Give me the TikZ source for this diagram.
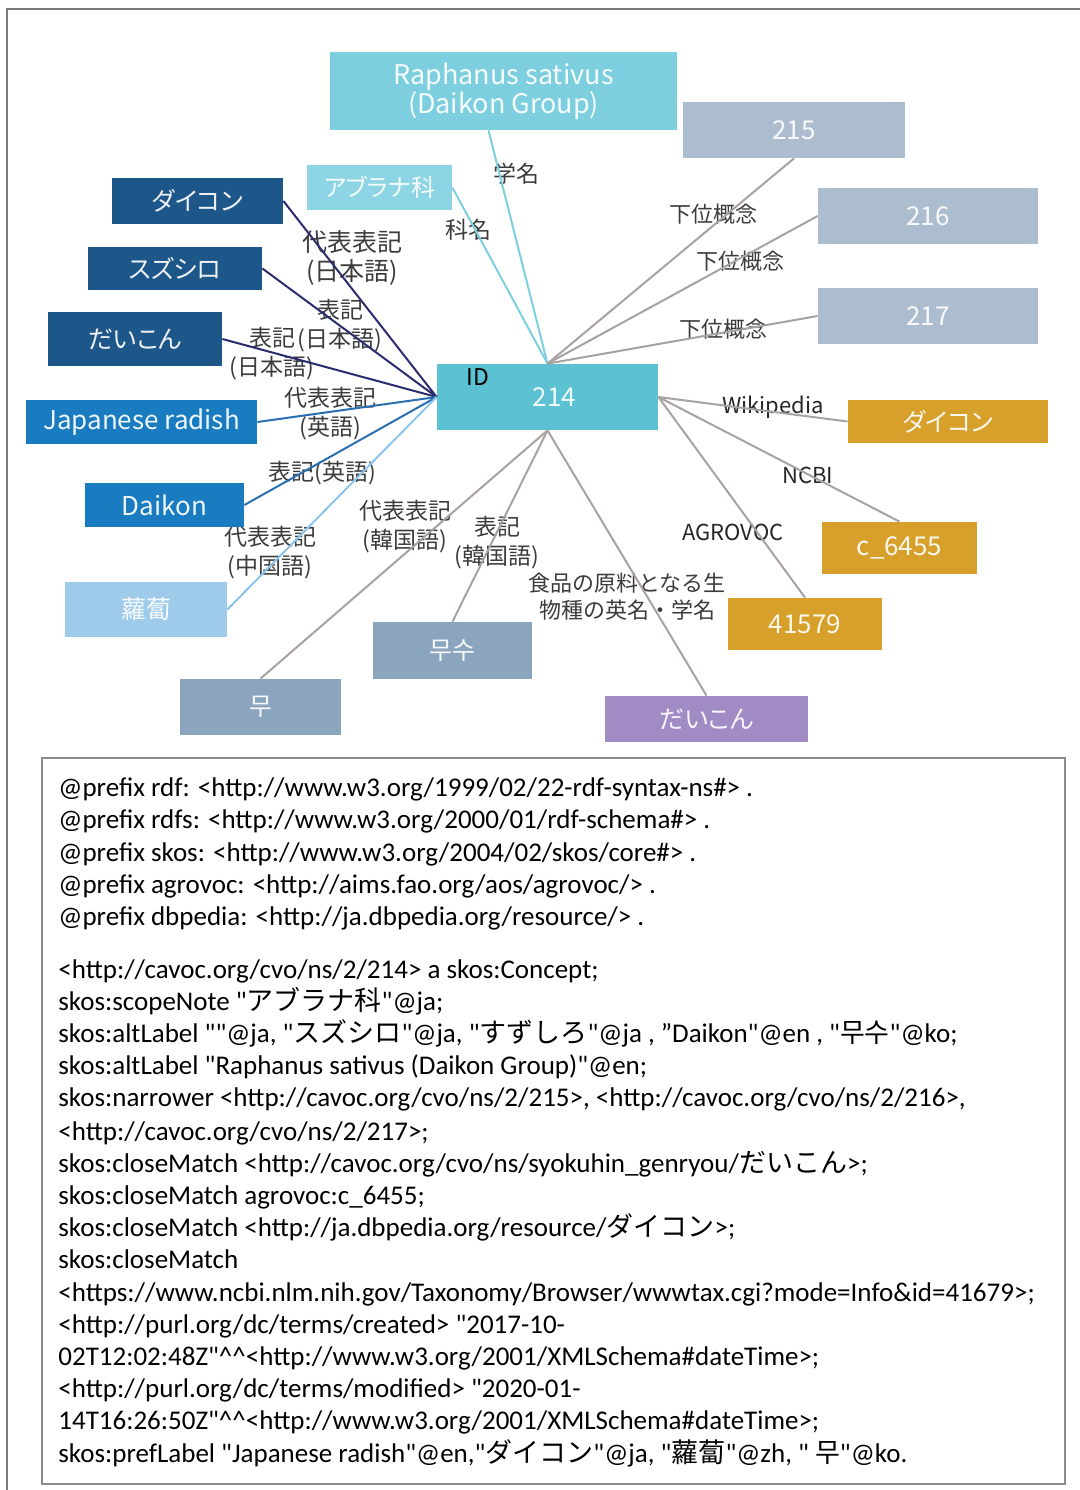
\documentclass[tikz,border=0pt]{standalone}
\usepackage{fontspec}
\setmainfont{Noto Sans CJK JP}
\newfontfamily\codefont{Carlito}
\newfontfamily\jp{Noto Sans CJK JP}
\newfontfamily\jpprop[RawFeature=+palt]{Noto Sans CJK JP}

% fills
\definecolor{raphfill}{HTML}{7DCFDF}
\definecolor{aburafill}{HTML}{8DD5E5}
\definecolor{idfill}{HTML}{5CC1D2}
\definecolor{narrowfill}{HTML}{ADBDD0}
\definecolor{navyfill}{HTML}{1D5688}
\definecolor{bluefill}{HTML}{1A7CC0}
\definecolor{lightbluefill}{HTML}{9ECBEA}
\definecolor{korfill}{HTML}{8BA5BE}
\definecolor{purplefill}{HTML}{A08BC4}
\definecolor{goldfill}{HTML}{D6A02A}
% connectors
\definecolor{navyline}{HTML}{2B2D6E}
\definecolor{blueline}{HTML}{2A70B0}
\definecolor{lightblueline}{HTML}{8CC4EC}
\definecolor{cyanline}{HTML}{7DD0E0}
\definecolor{grayline}{HTML}{A8A3A0}
% text and frames
\definecolor{labgray}{HTML}{3C3C3C}
\definecolor{framegray}{HTML}{7A7A7A}
\definecolor{boxgray}{HTML}{8C8C8C}

\begin{document}
\begin{tikzpicture}[x=0.5pt,y=-0.5pt,
  box/.style={rectangle, inner sep=0pt, text=white, text opacity=0.92,
    font=\jpprop\fontsize{12.5}{14.5}\selectfont, align=center},
  elab/.style={inner sep=0pt, text=labgray, font=\fontsize{11.5}{14.5}\selectfont, align=center},
  latlab/.style={inner sep=0pt, text=black!85, font=\fontsize{11}{13}\selectfont},
  codeline/.style={anchor=mid west, inner sep=0pt, font=\codefont\fontsize{13.5}{15}\selectfont},
  link/.style={line width=1pt}
]
\useasboundingbox (0,0) rectangle (1080,1490);
\fill[white] (0,0) rectangle (1080,1490);

% outer frame (top and left edges)
\draw[framegray, line width=1pt] (7,1490) -- (7,9) -- (1080,9);

% connector labels
\node[elab] (lgaku) at (516,174) {学名};
\node[elab] (lka) at (468,230) {科名};
\node[elab, font=\fontsize{12.5}{14.5}\selectfont] (ljp1) at (352,258) {代表表記\\(日本語)};
\node[elab] (ljp2) at (340,326) {表記\\(日本語)};
\node[elab] (ljp3) at (272,354) {表記\\(日本語)};
\node[elab] (len1) at (330,414) {代表表記\\(英語)};
\node[elab] (len2) at (322,473) {表記(英語)};
\node[elab] (lzh) at (270,553) {代表表記\\(中国語)};
\node[elab] (lko1) at (405,527) {代表表記\\(韓国語)};
\node[elab] (lko2) at (497,543) {表記\\(韓国語)};
\node[elab, font=\fontsize{11}{13.5}\selectfont] (lfood) at (627,597) {食品の原料となる生\\物種の英名・学名};
\node[elab, font=\fontsize{11}{13}\selectfont] (lnar1) at (713,214) {下位概念};
\node[elab, font=\fontsize{11}{13}\selectfont] (lnar2) at (740,261) {下位概念};
\node[elab, font=\fontsize{11}{13}\selectfont] (lnar3) at (723,329) {下位概念};
\node[latlab] (lwiki) at (773,407) {Wikipedia};
\node[latlab] (lncbi) at (808,475) {NCBI};
\node[latlab] (lagro) at (733,532) {AGROVOC};

% concept boxes
\node[box, fill=raphfill, minimum width=173.5pt, minimum height=39pt, font=\fontsize{13.5}{14.5}\selectfont] (raph) at (503.5,91) {Raphanus sativus\\(Daikon Group)};
\node[box, fill=narrowfill, minimum width=111pt, minimum height=28pt, font=\fontsize{13}{15}\selectfont] (n215) at (794,130) {215};
\node[box, fill=narrowfill, minimum width=110pt, minimum height=28pt, font=\fontsize{13}{15}\selectfont] (n216) at (928,216) {216};
\node[box, fill=narrowfill, minimum width=110pt, minimum height=28pt, font=\fontsize{13}{15}\selectfont] (n217) at (928,316) {217};
\node[box, fill=aburafill, minimum width=72.5pt, minimum height=22.5pt, font=\jpprop\fontsize{12}{14}\selectfont] (abura) at (379.5,187.5) {アブラナ科};
\node[box, fill=navyfill, minimum width=85.5pt, minimum height=23pt] (dk1) at (197.5,201) {ダイコン};
\node[box, fill=navyfill, minimum width=87pt, minimum height=21.5pt] (suzu) at (175,268.5) {スズシロ};
\node[box, fill=navyfill, minimum width=87pt, minimum height=27pt] (dk2) at (135,339) {だいこん};
\node[box, fill=idfill, minimum width=110.5pt, minimum height=33pt, font=\fontsize{13}{15}\selectfont] (id) at (547.5,397) {\hspace*{7pt}214};
\node[inner sep=0pt, text=black, font=\fontsize{11.5}{13}\selectfont] (idtag) at (478,377) {ID};
\node[box, fill=bluefill, minimum width=115.5pt, minimum height=22pt, font=\fontsize{13}{15}\selectfont] (jr) at (141.5,422) {Japanese radish};
\node[box, fill=bluefill, minimum width=79.5pt, minimum height=22pt, font=\fontsize{13}{15}\selectfont] (daik) at (164.5,505) {Daikon};
\node[box, fill=lightbluefill, minimum width=81pt, minimum height=27.5pt] (luobo) at (146,609.5) {蘿蔔};
\node[box, fill=korfill, minimum width=79.5pt, minimum height=28.5pt] (musu) at (452.5,650.5) {무수};
\node[box, fill=korfill, minimum width=80.5pt, minimum height=28pt] (mu) at (260.5,707) {무};
\node[box, fill=purplefill, minimum width=101.5pt, minimum height=23pt] (dk3) at (706.5,719) {だいこん};
\node[box, fill=goldfill, minimum width=100pt, minimum height=21.5pt] (dk4) at (948,421.5) {ダイコン};
\node[box, fill=goldfill, minimum width=77.5pt, minimum height=26pt, font=\fontsize{13}{15}\selectfont] (agro) at (899.5,548) {c\_6455};
\node[box, fill=goldfill, minimum width=77pt, minimum height=26pt, font=\fontsize{13}{15}\selectfont] (ncbi) at (805,624) {41579};

% connectors
\draw[link, cyanline] ([xshift=-7.5pt]raph.south) -- (id.north);
\draw[link, cyanline] (abura.east) -- (id.north);
\draw[link, grayline] (n215.south) -- (id.north);
\draw[link, grayline] (n216.west) -- (id.north);
\draw[link, grayline] (n217.west) -- (id.north);
\draw[link, navyline] (dk1.east) -- (id.west);
\draw[link, navyline] (suzu.east) -- (id.west);
\draw[link, navyline] (dk2.east) -- (id.west);
\draw[link, blueline] (jr.east) -- (id.west);
\draw[link, blueline] (daik.east) -- (id.west);
\draw[link, lightblueline] (luobo.east) -- (id.west);
\draw[link, grayline] (mu.north) -- (id.south);
\draw[link, grayline] (musu.north) -- (id.south);
\draw[link, grayline] (dk3.north) -- (id.south);
\draw[link, grayline] (dk4.west) -- (id.east);
\draw[link, grayline] (agro.north) -- (id.east);
\draw[link, grayline] (ncbi.north) -- (id.east);

% Turtle listing
\draw[boxgray, line width=1.2pt] (42,758) rectangle (1065,1484);
\node[codeline] (c1) at (58,791) {@prefix rdf: <http://www.w3.org/1999/02/22-rdf-syntax-ns\#> .};
\node[codeline] (c2) at (58,823) {@prefix rdfs: <http://www.w3.org/2000/01/rdf-schema\#> .};
\node[codeline] (c3) at (58,856) {@prefix skos: <http://www.w3.org/2004/02/skos/core\#> .};
\node[codeline] (c4) at (58,888) {@prefix agrovoc: <http://aims.fao.org/aos/agrovoc/> .};
\node[codeline] (c5) at (58,920) {@prefix dbpedia: <http://ja.dbpedia.org/resource/> .};
\node[codeline] (c6) at (58,973) {<http://cavoc.org/cvo/ns/2/214> a skos:Concept;};
\node[codeline] (c7) at (58,1005) {skos:scopeNote "{\jp アブラナ科}"@ja;};
\node[codeline] (c8) at (58,1037) {skos:altLabel ""@ja, "{\jp スズシロ}"@ja, "{\jp すずしろ}"@ja , ”Daikon"@en , "{\jp 무수}"@ko;};
\node[codeline] (c9) at (58,1069) {skos:altLabel "Raphanus sativus (Daikon Group)"@en;};
\node[codeline] (c10) at (58,1101) {skos:narrower <http://cavoc.org/cvo/ns/2/215>, <http://cavoc.org/cvo/ns/2/216>,};
\node[codeline] (c11) at (58,1135) {<http://cavoc.org/cvo/ns/2/217>;};
\node[codeline] (c12) at (58,1167) {skos:closeMatch <http://cavoc.org/cvo/ns/syokuhin\_genryou/{\jp だいこん}>;};
\node[codeline] (c13) at (58,1199) {skos:closeMatch agrovoc:c\_6455;};
\node[codeline] (c14) at (58,1231) {skos:closeMatch <http://ja.dbpedia.org/resource/{\jp ダイコン}>;};
\node[codeline] (c15) at (58,1263) {skos:closeMatch};
\node[codeline] (c16) at (58,1296) {<https://www.ncbi.nlm.nih.gov/Taxonomy/Browser/wwwtax.cgi?mode=Info\&id=41679>;};
\node[codeline] (c17) at (58,1328) {<http://purl.org/dc/terms/created> "2017-10-};
\node[codeline] (c18) at (58,1360) {02T12:02:48Z"\textasciicircum\textasciicircum<http://www.w3.org/2001/XMLSchema\#dateTime>;};
\node[codeline] (c19) at (58,1392) {<http://purl.org/dc/terms/modified> "2020-01-};
\node[codeline] (c20) at (58,1424) {14T16:26:50Z"\textasciicircum\textasciicircum<http://www.w3.org/2001/XMLSchema\#dateTime>;};
\node[codeline] (c21) at (58,1457) {skos:prefLabel "Japanese radish"@en,"{\jp ダイコン}"@ja, "{\jp 蘿蔔}"@zh, " {\jp 무}"@ko.};
\end{tikzpicture}
\end{document}
